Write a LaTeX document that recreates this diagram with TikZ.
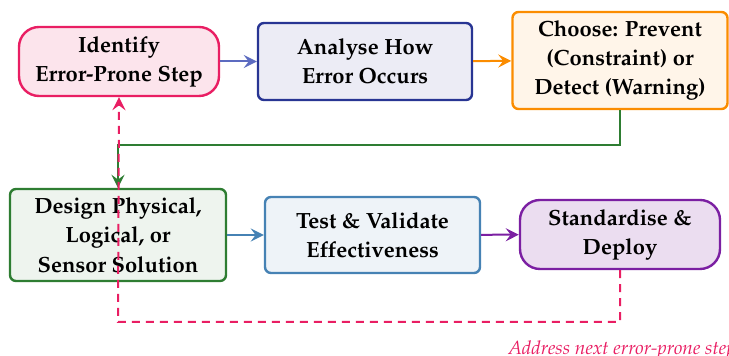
\documentclass[tikz,border=0pt]{standalone}
\usepackage[T1]{fontenc}
\usepackage{mathpazo}
\usetikzlibrary{arrows.meta,positioning}

\definecolor{pinkB}{HTML}{E91E63}
\definecolor{pinkF}{HTML}{FCE4EC}
\definecolor{navyB}{HTML}{283593}
\definecolor{navyF}{HTML}{ECECF5}
\definecolor{indigoA}{HTML}{5C6BC0}
\definecolor{orangeB}{HTML}{FB8C00}
\definecolor{orangeF}{HTML}{FFF5E9}
\definecolor{greenB}{HTML}{2E7D32}
\definecolor{greenF}{HTML}{EEF4EE}
\definecolor{blueB}{HTML}{4682B4}
\definecolor{blueF}{HTML}{EEF3F8}
\definecolor{purpleB}{HTML}{7B1FA2}
\definecolor{purpleF}{HTML}{EBDDF0}

\tikzset{
  stepbox/.style={draw, line width=1.2pt, rounded corners=3pt, align=center,
    font=\fontsize{11}{14.6}\selectfont\bfseries, inner sep=0pt},
  endbox/.style={stepbox, rounded corners=10pt},
  flow/.style={-{Stealth[length=6.5pt,width=6.5pt,inset=2.4pt]}, line width=1pt},
  loop/.style={flow, dashed, dash pattern=on 4pt off 3pt, line width=1pt}
}

\begin{document}
\begin{tikzpicture}[x=0.5pt,y=-0.5pt]
  \useasboundingbox (0,0) rectangle (729,356);

  % top row
  \node[endbox, draw=pinkB, fill=pinkF, minimum width=100pt, minimum height=34.5pt]
    (identify) at (119,61.5) {Identify\\Error-Prone Step};
  \node[stepbox, draw=navyB, fill=navyF, minimum width=107pt, minimum height=38.5pt]
    (analyse) at (365,61.5) {Analyse How\\Error Occurs};
  \node[stepbox, draw=orangeB, fill=orangeF, minimum width=107.5pt, minimum height=48.5pt]
    (choose) at (620,60.5) {Choose: Prevent\\(Constraint) or\\Detect (Warning)};

  % bottom row
  \node[stepbox, draw=greenB, fill=greenF, minimum width=108pt, minimum height=46pt]
    (design) at (118,235) {Design Physical,\\Logical, or\\Sensor Solution};
  \node[stepbox, draw=blueB, fill=blueF, minimum width=107.5pt, minimum height=38pt]
    (test) at (372.5,235) {Test \& Validate\\Effectiveness};
  \node[endbox, draw=purpleB, fill=purpleF, minimum width=100pt, minimum height=34.5pt]
    (deploy) at (620,234.5) {Standardise \&\\Deploy};

  % main flow
  \draw[flow, indigoA] (identify) -- (analyse);
  \draw[flow, orangeB] (analyse) -- (choose);
  \coordinate (turnR) at (620,145);
  \coordinate (turnL) at (118,145);
  \draw[flow, greenB] (choose.south) -- (turnR) -- (turnL) -- (design.north);
  \draw[flow, blueB] (design) -- (test);
  \draw[flow, purpleB] (test) -- (deploy);

  % loop back to the first step
  \coordinate (backR) at (620,322);
  \coordinate (backL) at (118,322);
  \draw[loop, pinkB] (deploy.south) -- (backR) -- (backL) -- (identify.south);
  \node[font=\fontsize{9.5}{11}\selectfont\itshape, text=pinkB, anchor=north,
    inner sep=0pt] (note) at (622,340) {Address next error-prone step};
\end{tikzpicture}
\end{document}
